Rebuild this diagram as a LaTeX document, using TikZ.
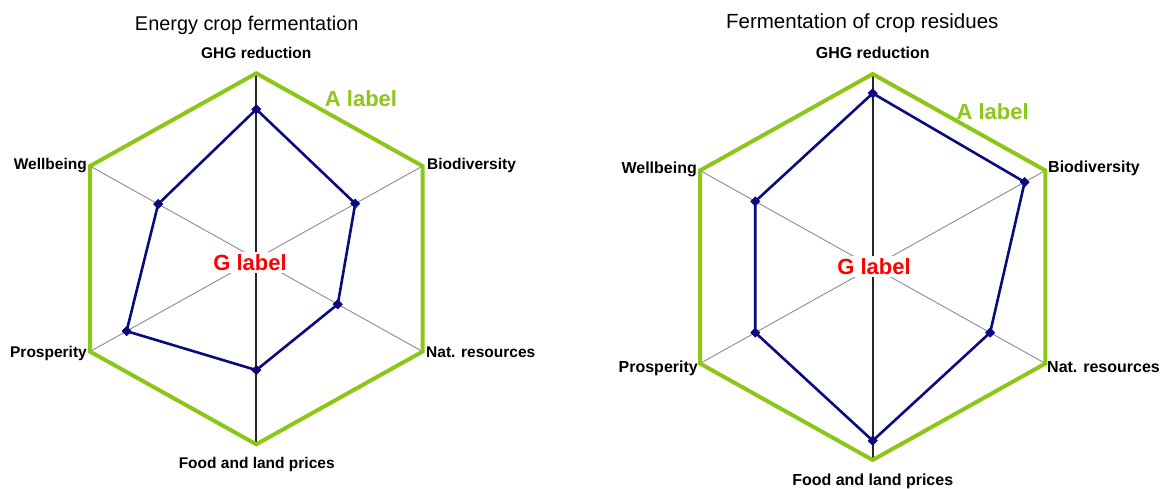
\documentclass[tikz,border=0pt]{standalone}
\usepackage{fontspec}
\setmainfont{Liberation Sans}
\usetikzlibrary{shapes.geometric}
\definecolor{hexgreen}{RGB}{140,198,25}
\definecolor{datanavy}{RGB}{10,10,128}
\definecolor{glabelred}{RGB}{255,0,0}
\tikzset{
  hexline/.style={draw=hexgreen, line width=4pt, line join=miter},
  dataline/.style={draw=datanavy, line width=2.6pt, line join=round},
  spokemain/.style={draw=black!85, line width=1.7pt},
  spokeside/.style={draw=black!45, line width=0.9pt},
  datamark/.style={diamond, fill=datanavy, draw=datanavy, line width=0.6pt, line join=round, inner sep=0pt, minimum size=9.5pt},
  axislabelL/.style={font=\bfseries\fontsize{15.5}{18}\selectfont, inner sep=0pt},
  axislabelR/.style={font=\bfseries\fontsize{16}{19}\selectfont, inner sep=0pt},
  titleL/.style={font=\fontsize{19.9}{24}\selectfont, inner sep=0pt},
  titleR/.style={font=\fontsize{20.5}{24}\selectfont, inner sep=0pt},
  alabel/.style={text=hexgreen, font=\bfseries\fontsize{22}{26}\selectfont, inner sep=0pt},
  glabel/.style={text=glabelred, fill=white, font=\bfseries\fontsize{22}{26}\selectfont, inner sep=2.5pt}
}
\begin{document}
\begin{tikzpicture}[x=1pt,y=-1pt]
\useasboundingbox (0,0) rectangle (1170,489);

% ---------------- Left chart ----------------
\begin{scope}[shift={(256.3,258.8)}, xscale=1.035]
  \coordinate (LG) at (-90:185.5);
  \coordinate (LB) at (-30:185.5);
  \coordinate (LN) at (30:185.5);
  \coordinate (LF) at (90:185.5);
  \coordinate (LP) at (150:185.5);
  \coordinate (LW) at (210:185.5);
  \draw[spokeside] (LW) -- (LN);
  \draw[spokeside] (LB) -- (LP);
  \draw[spokemain] (LG) -- (LF);
  \draw[hexline] (LG) -- (LB) -- (LN) -- (LF) -- (LP) -- (LW) -- cycle;
  \node[datamark] (lg) at (-90:{0.806*185.5}) {};
  \node[datamark] (lb) at (-30:{0.595*185.5}) {};
  \node[datamark] (ln) at (30:{0.49*185.5}) {};
  \node[datamark] (lf) at (90:{0.60*185.5}) {};
  \node[datamark] (lp) at (150:{0.78*185.5}) {};
  \node[datamark] (lw) at (210:{0.59*185.5}) {};
  \draw[dataline] (lg.center) -- (lb.center) -- (ln.center) -- (lf.center) -- (lp.center) -- (lw.center) -- cycle;
\end{scope}
\node[titleL, anchor=base] (ltitle) at (246.7,30.1) {Energy crop fermentation};
\node[axislabelL, anchor=base] (lghg) at (256.3,58.2) {GHG reduction};
\node[axislabelL, anchor=base] (lfood) at (256.7,468.2) {Food and land prices};
\node[axislabelL, anchor=base east] (lwell) at (87,169.3) {Wellbeing};
\node[axislabelL, anchor=base west] (lbio) at (427,169.3) {Biodiversity};
\node[axislabelL, anchor=base east] (lpros) at (87,357.5) {Prosperity};
\node[axislabelL, anchor=base west] (lnat) at (426,357.5) {Nat. resources};
\node[alabel, anchor=base] (lalab) at (361,106.3) {A label};
\node[glabel] (lglab) at (250,262.5) {G label};

% ---------------- Right chart ----------------
\begin{scope}[shift={(872.7,267)}, xscale=1.033]
  \coordinate (RG) at (-90:193);
  \coordinate (RB) at (-30:193);
  \coordinate (RN) at (30:193);
  \coordinate (RF) at (90:193);
  \coordinate (RP) at (150:193);
  \coordinate (RW) at (210:193);
  \draw[spokeside] (RW) -- (RN);
  \draw[spokeside] (RB) -- (RP);
  \draw[spokemain] (RG) -- (RF);
  \draw[hexline] (RG) -- (RB) -- (RN) -- (RF) -- (RP) -- (RW) -- cycle;
  \node[datamark] (rg) at (-90:{0.90*193}) {};
  \node[datamark] (rb) at (-30:{0.88*193}) {};
  \node[datamark] (rn) at (30:{0.68*193}) {};
  \node[datamark] (rf) at (90:{0.90*193}) {};
  \node[datamark] (rp) at (150:{0.68*193}) {};
  \node[datamark] (rw) at (210:{0.68*193}) {};
  \draw[dataline] (rg.center) -- (rb.center) -- (rn.center) -- (rf.center) -- (rp.center) -- (rw.center) -- cycle;
\end{scope}
\node[titleR, anchor=base] (rtitle) at (862.3,29) {Fermentation of crop residues};
\node[axislabelR, anchor=base] (rghg) at (872.7,59) {GHG reduction};
\node[axislabelR, anchor=base] (rfood) at (872.7,485) {Food and land prices};
\node[axislabelR, anchor=base east] (rwell) at (697,173.2) {Wellbeing};
\node[axislabelR, anchor=base west] (rbio) at (1048,172.6) {Biodiversity};
\node[axislabelR, anchor=base east] (rpros) at (698,372) {Prosperity};
\node[axislabelR, anchor=base west] (rnat) at (1047,372) {Nat. resources};
\node[alabel, anchor=base] (ralab) at (992.7,119.4) {A label};
\node[glabel] (rglab) at (874,266.7) {G label};
\end{tikzpicture}
\end{document}
